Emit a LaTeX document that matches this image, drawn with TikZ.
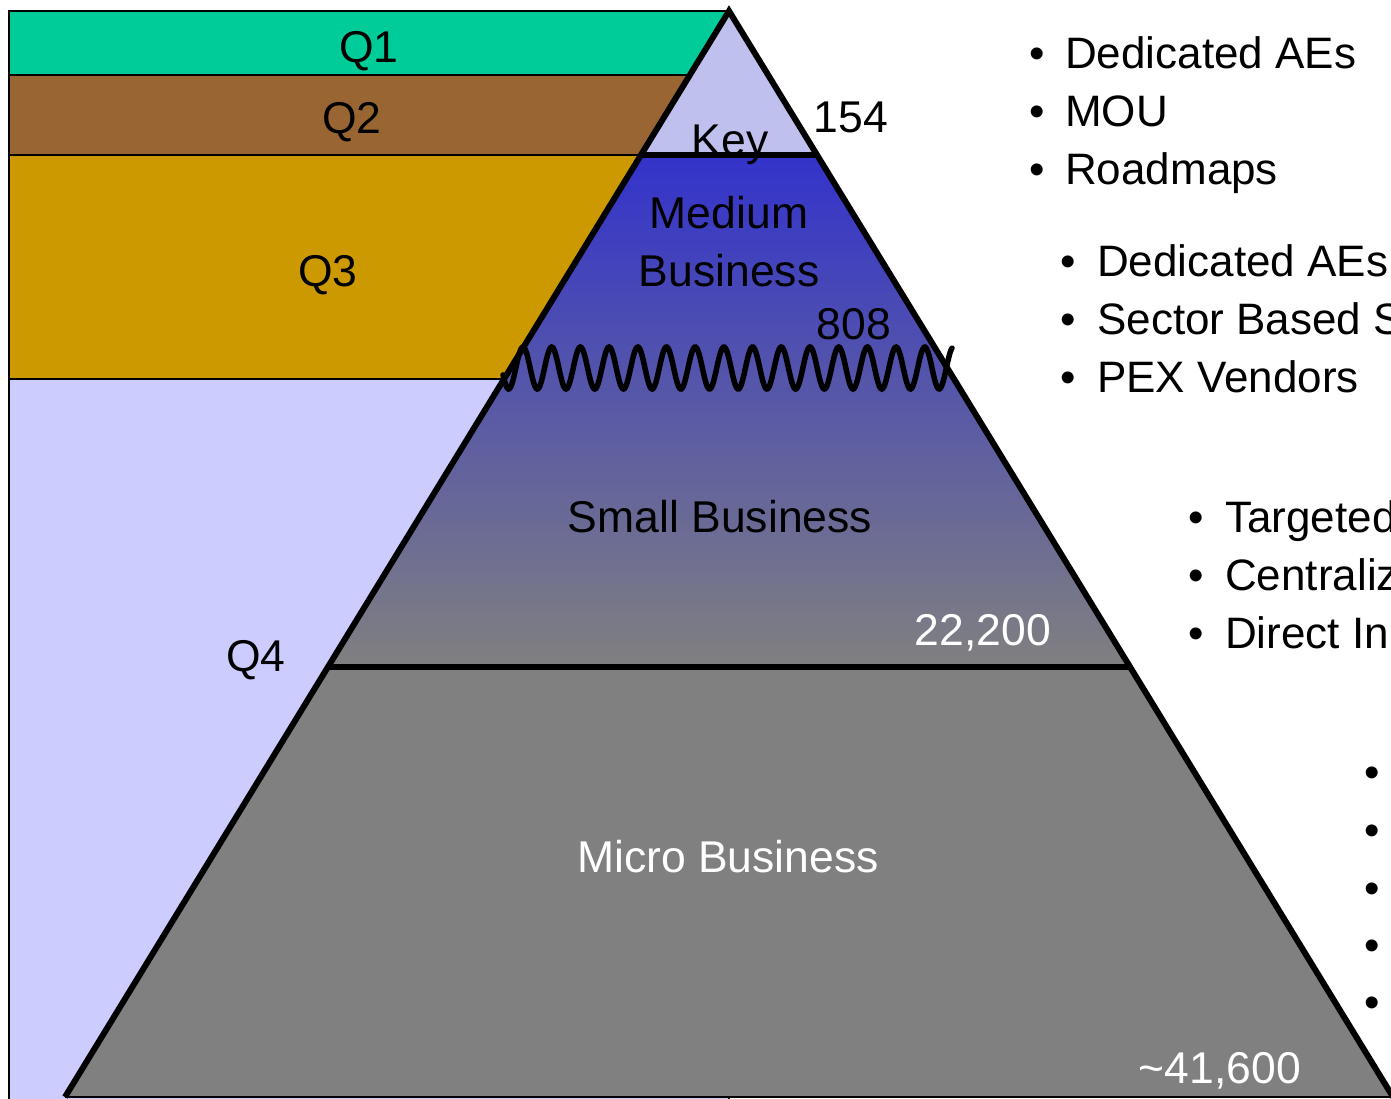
\documentclass[tikz,border=0pt]{standalone}
\usepackage{fontspec}
\setmainfont{Liberation Sans}
\definecolor{qone}{HTML}{00CC99}
\definecolor{qtwo}{HTML}{996633}
\definecolor{qthree}{HTML}{CC9900}
\definecolor{qfour}{HTML}{CCCCFF}
\definecolor{keyfill}{HTML}{C0C0EE}
\definecolor{medblue}{HTML}{3333CC}
\definecolor{tiergray}{HTML}{808080}
\begin{document}
\begin{tikzpicture}[x=1pt,y=-1pt,
  band/.style={draw=black, line width=2.5pt},
  edge/.style={draw=black, line width=6pt, line join=miter},
  lbl/.style={inner sep=0pt, anchor=base, font=\fontsize{44.5}{53}\selectfont},
  wlbl/.style={lbl, text=white},
  item/.style={inner sep=0pt, anchor=base west, font=\fontsize{44}{53}\selectfont},
  dot/.style={inner sep=0pt, anchor=base, font=\fontsize{44}{53}\selectfont}]
\useasboundingbox (0,0) rectangle (1391,1098);

% pyramid corners
\coordinate (apex) at (729,11);
\coordinate (keyL) at (641,155);
\coordinate (keyR) at (817,155);
\coordinate (smL) at (328,667);
\coordinate (smR) at (1130,667);
\coordinate (baseL) at (65,1097);
\coordinate (baseR) at (1393,1097);

% quarter bands behind the pyramid
\path[band, fill=qone]   (9,11)  rectangle (729,75);
\path[band, fill=qtwo]   (9,75)  rectangle (729,155);
\path[band, fill=qthree] (9,155) rectangle (729,379);
\path[band, fill=qfour]  (9,379) rectangle (729,1104);

% pyramid tiers
\fill[keyfill] (apex) -- (keyR) -- (keyL) -- cycle;
\shade[top color=medblue, bottom color=tiergray]
  (keyL) -- (keyR) -- (smR) -- (smL) -- cycle;
\fill[tiergray] (smL) -- (smR) -- (baseR) -- (baseL) -- cycle;

% outline and tier dividers
\draw[black, line width=2pt] (baseL) -- (baseR);
\draw[edge] (baseL) -- (apex) -- (baseR);
\draw[edge] (keyL) -- (keyR);
\draw[edge] (smL) -- (smR);

% wavy break between medium and small business
\draw[line width=5.5pt, line cap=round]
  plot[domain=503:952, samples=500, smooth] (\x, {368 - 21*cos((\x-523)*12.5436)});

% band labels
\node[lbl] (q1) at (369,62) {Q1};
\node[lbl] (q2) at (352,133) {Q2};
\node[lbl] (q3) at (328,286) {Q3};
\node[lbl] (q4) at (256,671) {Q4};

% tier labels
\node[lbl] (key) at (730,155) {Key};
\node[lbl] (n154) at (851,132) {154};
\node[lbl] (med1) at (729,228) {Medium};
\node[lbl] (med2) at (729,286) {Business};
\node[lbl] (n808) at (854,339) {808};
\node[lbl] (small) at (720,532) {Small Business};
\node[wlbl] (n22200) at (983,645) {22,200};
\node[wlbl] (micro) at (728,872) {Micro Business};
\node[wlbl] (n41600) at (1220,1083) {\textasciitilde41,600};

% key account measures
\node[dot] (b1a) at (1037,68) {•};
\node[dot] (b1b) at (1037,126) {•};
\node[dot] (b1c) at (1037,184) {•};
\node[item] (t1a) at (1065,68) {Dedicated AEs};
\node[item] (t1b) at (1065,126) {MOU};
\node[item] (t1c) at (1065,184) {Roadmaps};

% medium business measures
\node[dot] (b2a) at (1068,276) {•};
\node[dot] (b2b) at (1068,334) {•};
\node[dot] (b2c) at (1068,392) {•};
\node[item] (t2a) at (1097,276) {Dedicated AEs};
\node[item] (t2b) at (1097,334) {Sector Based S};
\node[item] (t2c) at (1097,392) {PEX Vendors};

% small business measures
\node[dot] (b3a) at (1196,532) {•};
\node[dot] (b3b) at (1196,590) {•};
\node[dot] (b3c) at (1196,648) {•};
\node[item] (t3a) at (1225,532) {Targeted};
\node[item] (t3b) at (1225,590) {Centraliz};
\node[item] (t3c) at (1225,648) {Direct In};

% micro business measures
\node[dot] (b4a) at (1372,787) {•};
\node[dot] (b4b) at (1372,845) {•};
\node[dot] (b4c) at (1372,903) {•};
\node[dot] (b4d) at (1372,960) {•};
\node[dot] (b4e) at (1372,1017) {•};
\end{tikzpicture}
\end{document}
